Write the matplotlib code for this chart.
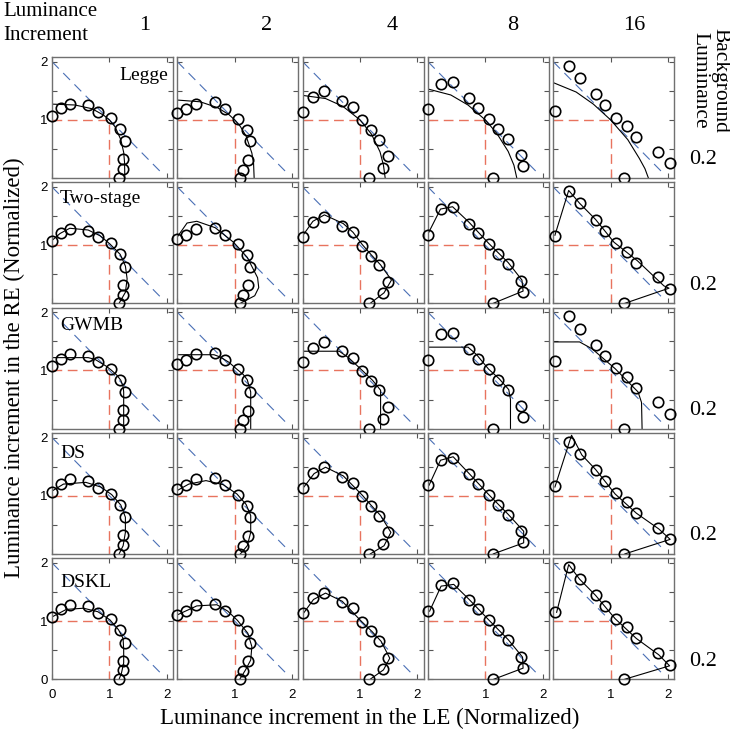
import matplotlib
matplotlib.use("Agg")
import matplotlib.pyplot as plt

plt.rcParams['lines.scale_dashes'] = False

# column headers (luminance increment) and row models
increments = ['1', '2', '4', '8', '16']
models = ['Legge', 'Two-stage', 'GWMB', 'DS', 'DSKL']
background = '0.2'

# measured points (LE, RE) for each increment column
le_data = [
    [0, 0.15, 0.32, 0.62, 0.81, 1.03, 1.19, 1.28, 1.23, 1.23, 1.17],
    [0, 0.15, 0.33, 0.66, 0.84, 1.05, 1.21, 1.27, 1.23, 1.15, 1.09],
    [0, 0.19, 0.38, 0.68, 0.88, 1.04, 1.20, 1.34, 1.49, 1.40, 1.16],
    [0, 0.22, 0.43, 0.72, 0.88, 1.06, 1.23, 1.40, 1.63, 1.65, 1.13],
    [0.03, 0.27, 0.46, 0.74, 0.91, 1.09, 1.29, 1.45, 1.83, 2.03, 1.24],
]
re_data = [
    [1.07, 1.20, 1.28, 1.25, 1.14, 1.03, 0.84, 0.63, 0.32, 0.15, 0],
    [1.11, 1.18, 1.28, 1.30, 1.18, 1.02, 0.83, 0.63, 0.31, 0.14, 0],
    [1.14, 1.39, 1.49, 1.33, 1.22, 0.99, 0.82, 0.66, 0.37, 0.17, 0],
    [1.18, 1.62, 1.65, 1.37, 1.20, 1.02, 0.84, 0.67, 0.39, 0.20, 0],
    [1.16, 1.93, 1.72, 1.44, 1.25, 1.04, 0.89, 0.70, 0.45, 0.25, 0],
]

# model predictions
legge_x = [
    [0, 0.4, 0.7, 0.9, 1.0, 1.1, 1.2, 1.25, 1.265, 1.27],
    [0, 0.4, 0.7, 0.9, 1.0, 1.1, 1.2, 1.3, 1.33, 1.34],
    [0, 0.4, 0.7, 1.0, 1.2, 1.35, 1.41, 1.44],
    [0, 0.4, 0.7, 1.0, 1.2, 1.4, 1.5, 1.55],
    [0, 0.4, 0.7, 1.0, 1.3, 1.5, 1.6, 1.66],
]
legge_y = [
    [1.27, 1.255, 1.19, 1.08, 1.0, 0.88, 0.66, 0.44, 0.27, 0],
    [1.34, 1.31, 1.21, 1.09, 1.0, 0.885, 0.72, 0.43, 0.25, 0],
    [1.42, 1.366, 1.233, 1.0, 0.755, 0.45, 0.22, 0],
    [1.53, 1.427, 1.254, 1.0, 0.77, 0.457, 0.22, 0],
    [1.64, 1.478, 1.27, 1.0, 0.66, 0.34, 0.16, 0],
]
twostage_x = [
    [0, 0.14, 0.31, 0.63, 0.84, 1.01, 1.19, 1.28, 1.31, 1.28, 1.17],
    [0, 0.17, 0.34, 0.66, 0.98, 1.22, 1.40, 1.42, 1.35, 1.10],
    [0, 0.18, 0.38, 0.71, 0.88, 1.04, 1.20, 1.36, 1.55, 1.42, 1.18],
    [0, 0.22, 0.43, 0.72, 1.06, 1.40, 1.64, 1.66, 1.14],
    [0.03, 0.27, 0.46, 0.74, 1.06, 1.47, 1.93, 2.02, 1.25],
]
twostage_y = [
    [1.08, 1.20, 1.29, 1.26, 1.16, 1.02, 0.84, 0.64, 0.42, 0.19, 0],
    [1.14, 1.38, 1.41, 1.30, 1.05, 0.79, 0.44, 0.27, 0.13, 0],
    [1.16, 1.41, 1.52, 1.37, 1.22, 1.01, 0.83, 0.66, 0.40, 0.18, 0],
    [1.19, 1.62, 1.66, 1.39, 1.03, 0.70, 0.40, 0.21, 0],
    [1.17, 1.94, 1.72, 1.44, 1.05, 0.73, 0.30, 0.26, 0],
]
gwmb_x = [
    [0, 0.63, 0.75, 0.95, 1.04, 1.13, 1.20, 1.24, 1.25, 1.25],
    [0, 0.64, 0.75, 0.90, 1.04, 1.15, 1.22, 1.28, 1.28],
    [0, 0.64, 0.80, 1.04, 1.22, 1.36, 1.36],
    [0, 0.70, 0.85, 1.06, 1.24, 1.41, 1.44, 1.44],
    [0, 0.46, 0.68, 1.08, 1.48, 1.54, 1.55],
]
gwmb_y = [
    [1.22, 1.22, 1.19, 1.07, 1.0, 0.92, 0.83, 0.72, 0.63, 0],
    [1.27, 1.27, 1.23, 1.14, 1.02, 0.93, 0.84, 0.63, 0],
    [1.33, 1.33, 1.22, 1.0, 0.83, 0.66, 0],
    [1.40, 1.40, 1.27, 1.02, 0.86, 0.67, 0.50, 0],
    [1.49, 1.49, 1.37, 1.03, 0.63, 0.45, 0],
]
ds_x = [
    [0, 0.20, 0.59, 0.85, 1.04, 1.20, 1.28, 1.28, 1.24, 1.17],
    [0, 0.20, 0.50, 0.80, 1.04, 1.20, 1.28, 1.28, 1.22, 1.10],
    [0, 0.20, 0.40, 0.71, 1.04, 1.20, 1.36, 1.54, 1.42, 1.18],
    [0.02, 0.22, 0.44, 0.72, 1.06, 1.40, 1.67, 1.67, 1.14],
    [0.03, 0.32, 0.50, 0.74, 1.08, 1.45, 1.84, 2.04, 1.25],
]
ds_y = [
    [1.08, 1.20, 1.23, 1.15, 1.02, 0.84, 0.63, 0.37, 0.14, 0],
    [1.09, 1.20, 1.26, 1.19, 1.03, 0.85, 0.66, 0.37, 0.14, 0],
    [1.12, 1.38, 1.49, 1.34, 1.01, 0.83, 0.66, 0.37, 0.14, 0],
    [1.18, 1.61, 1.67, 1.38, 1.02, 0.68, 0.39, 0.19, 0],
    [1.15, 2.04, 1.70, 1.45, 1.03, 0.70, 0.43, 0.25, 0],
]
dskl_x = [
    [0, 0.25, 0.55, 0.80, 1.01, 1.16, 1.24, 1.25, 1.25, 1.21, 1.17],
    [0.01, 0.34, 0.69, 0.88, 1.05, 1.23, 1.30, 1.28, 1.19, 1.09],
    [0.02, 0.19, 0.40, 0.69, 1.03, 1.21, 1.37, 1.52, 1.41, 1.18],
    [0.03, 0.23, 0.45, 0.72, 1.06, 1.40, 1.65, 1.66, 1.15],
    [0.06, 0.27, 0.46, 0.74, 1.08, 1.45, 1.84, 2.03, 1.25],
]
dskl_y = [
    [1.07, 1.20, 1.22, 1.16, 1.02, 0.85, 0.70, 0.50, 0.28, 0.10, 0],
    [1.11, 1.26, 1.28, 1.17, 1.01, 0.79, 0.56, 0.33, 0.16, 0],
    [1.14, 1.37, 1.48, 1.34, 0.99, 0.82, 0.65, 0.36, 0.16, 0],
    [1.17, 1.60, 1.63, 1.37, 1.02, 0.68, 0.38, 0.19, 0],
    [1.15, 1.97, 1.72, 1.44, 1.04, 0.70, 0.42, 0.23, 0],
]

curves_x = [legge_x, twostage_x, gwmb_x, ds_x, dskl_x]
curves_y = [legge_y, twostage_y, gwmb_y, ds_y, dskl_y]

serif = 'Liberation Serif'
sans = 'Liberation Sans'

W, H = 730, 734
fig = plt.figure(figsize=(W / 100, H / 100), dpi=100)

left0, top0, step, pw, ph = 52, 57, 125.3, 121, 121
header_x = [145, 267, 392, 513, 634]
label_y = [0.85, 0.87, 0.855, 0.83, 0.80]

for r in range(5):
    for c in range(5):
        x0 = left0 + step * c
        y0 = top0 + step * r
        ax = fig.add_axes([x0 / W, 1 - (y0 + ph) / H, pw / W, ph / H])
        ax.set_xlim(0, 2.11)
        ax.set_ylim(0, 2.08)

        # equal-summation diagonal and monocular thresholds
        ax.plot([0, 1.95], [2, 0.05], color='#4a6fb5', lw=0.8, dashes=(7, 4.5))
        ax.plot([0, 1, 1], [1, 1, 0], color='#e8735e', lw=1.0, dashes=(7, 4))

        ax.plot(curves_x[r][c], curves_y[r][c], color='black', lw=0.8)
        ax.plot(le_data[c], re_data[c], 'o', ms=7.5, mfc='none', mec='black',
                mew=1.2, clip_on=False, zorder=5)

        ax.set_xticks([0, 1, 2])
        ax.set_yticks([0, 0.5, 1, 1.5, 2])
        ax.tick_params(direction='in', length=3.5, width=0.8, color='#555555',
                       top=True, right=True, labelsize=9.5)
        ax.tick_params(axis='x', pad=7)
        ax.tick_params(axis='y', pad=3)
        for s in ax.spines.values():
            s.set_color('#707070')
            s.set_linewidth(1.0)

        if r == 4:
            ax.set_xticklabels(['0' if c == 0 else '', '1', '2'], family=sans)
        else:
            ax.set_xticklabels([])
        if c == 0:
            ax.set_yticklabels(['0' if r == 4 else '', '', '1', '', '2'], family=sans)
        else:
            ax.set_yticklabels([])

        if c == 0:
            if r == 0:
                ax.text(0.96, label_y[r], models[r], transform=ax.transAxes,
                        family=serif, fontsize=14, ha='right', va='center')
            else:
                ax.text(0.066, label_y[r], models[r], transform=ax.transAxes,
                        family=serif, fontsize=14, ha='left', va='center')

# headers
fig.text(3 / W, 1 - 12 / H, 'Luminance', family=serif, fontsize=15, ha='left', va='center')
fig.text(3 / W, 1 - 35 / H, 'Increment', family=serif, fontsize=15, ha='left', va='center')
for c, lab in enumerate(increments):
    fig.text(header_x[c] / W, 1 - 26 / H, lab, family=serif, fontsize=16,
             ha='center', va='center')
fig.text(710 / W, 1 - 80 / H, 'Background\nLuminance', family=serif, fontsize=15.5,
         rotation=-90, ha='center', va='center', linespacing=1.1)
for r in range(5):
    fig.text(703 / W, 1 - (160 + step * r) / H, background, family=serif,
             fontsize=16, ha='center', va='center')

fig.text(370 / W, 1 - 718 / H, 'Luminance increment in the LE (Normalized)',
         family=serif, fontsize=16.5, ha='center', va='center')
fig.text(14 / W, 1 - 368 / H, 'Luminance increment in the RE (Normalized)',
         family=serif, fontsize=16.5, rotation=90, ha='center', va='center')

fig.savefig('out.png', dpi=100)
